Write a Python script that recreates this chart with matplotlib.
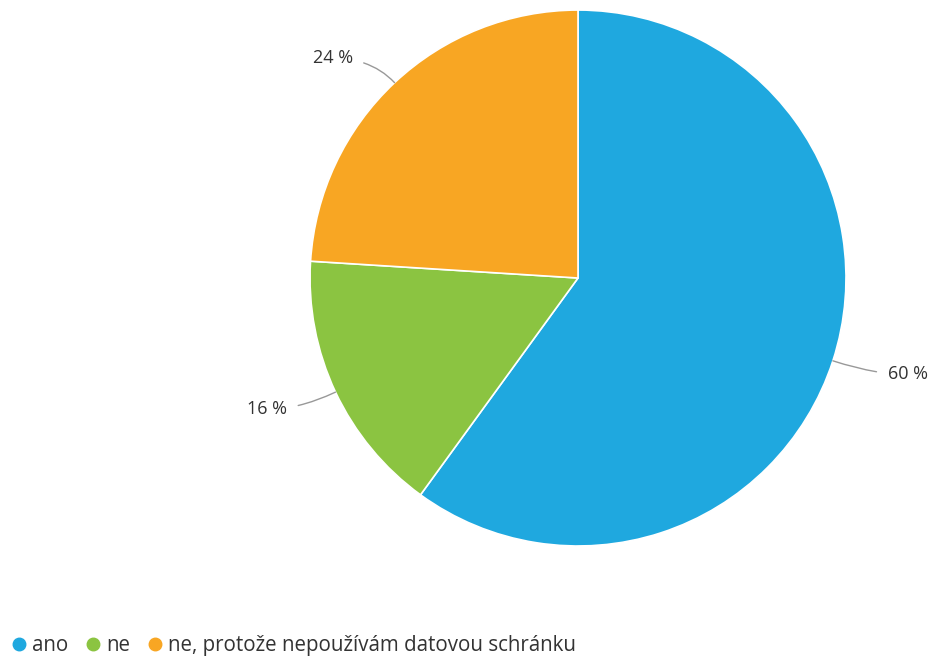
import matplotlib
matplotlib.use("Agg")
import matplotlib.pyplot as plt
import numpy as np
from matplotlib.lines import Line2D

plt.rcParams["font.family"] = ["Open Sans", "DejaVu Sans"]

labels = ["ano", "ne", "ne, protože nepoužívám datovou schránku"]
values = [60, 16, 24]
colors = ["#1fa8df", "#8bc441", "#f8a623"]

# label anchor points (data coords, pie radius = 1)
label_pos = [(1.155, -0.36), (-1.085, -0.49), (-0.84, 0.82)]

fig = plt.figure(figsize=(9.31, 6.56), dpi=100)
ax = fig.add_axes([0.333, 0.1677, 0.5757, 0.817])
wedges, _ = ax.pie(values, colors=colors, startangle=90, counterclock=False,
                   radius=1.0, wedgeprops=dict(edgecolor="white", linewidth=1.2))
ax.set_xlim(-1, 1)
ax.set_ylim(-1, 1)
ax.set_aspect("equal")
ax.axis("off")

for w, v, (lx, ly) in zip(wedges, values, label_pos):
    ang = np.deg2rad((w.theta1 + w.theta2) / 2)
    px, py = np.cos(ang), np.sin(ang)
    right = lx > 0
    ax.annotate(f"{v} %", xy=(px, py), xytext=(lx, ly),
                ha="left" if right else "right", va="center",
                fontsize=13, color="#333333", annotation_clip=False,
                arrowprops=dict(arrowstyle="-", color="#999999", lw=1,
                                shrinkA=6, shrinkB=0,
                                connectionstyle=f"angle3,angleA=0,angleB={np.rad2deg(ang):.1f}"))

handles = [Line2D([], [], marker="o", linestyle="", markersize=9,
                  markerfacecolor=c, markeredgecolor=c) for c in colors]
fig.legend(handles, labels, loc="lower left", bbox_to_anchor=(0.009, 0.0),
           borderaxespad=0, borderpad=0,
           ncol=3, frameon=False, fontsize=14.8, handletextpad=0.15,
           columnspacing=0.7, handlelength=1.0, labelcolor="#333333")

fig.savefig("out.png", dpi=100, facecolor="white")
